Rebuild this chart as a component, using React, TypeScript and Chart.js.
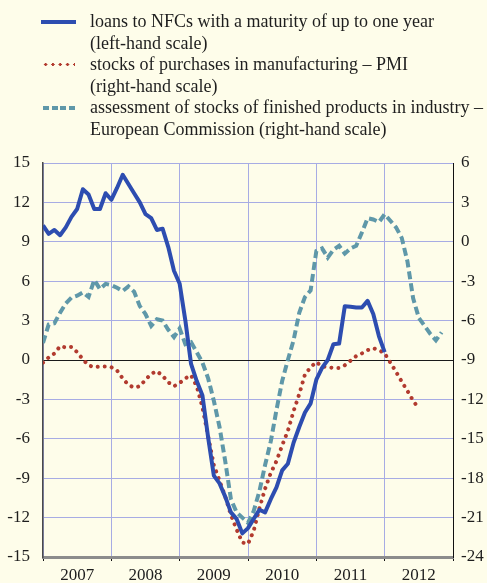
import React, { useEffect, useRef } from "react";
import { Chart, registerables } from "chart.js";

Chart.register(...registerables);

// Monthly observations, Jan 2007 = index 0
const years = ["2007", "2008", "2009", "2010", "2011", "2012"];

// loans to NFCs with a maturity of up to one year (left-hand scale)
const loans = [
  10.25, 9.6, 9.9, 9.5, 10.1, 10.9, 11.5, 13.0, 12.6, 11.5, 11.5, 12.7,
  12.2, 13.1, 14.1, 13.4, 12.7, 12.0, 11.1, 10.8, 9.9, 10.0, 8.6, 6.8,
  5.8, 3.0, -0.3, -1.6, -2.7, -5.9, -8.8, -9.4, -10.4, -11.6, -12.1, -13.2,
  -12.8, -12.1, -11.4, -11.6, -10.6, -9.7, -8.4, -7.9, -6.3, -5.1, -4.0, -3.3,
  -1.5, -0.6, 0.0, 1.2, 1.25, 4.1, 4.05, 4.0, 4.0, 4.5, 3.5, 1.8,
  0.6,
];

// stocks of purchases in manufacturing – PMI (right-hand scale)
const pmi = [
  -9.2, -8.8, -8.5, -7.95, -8.05, -8.0, -8.4, -8.95, -9.4, -9.55, -9.5, -9.5,
  -9.55, -9.8, -10.4, -10.9, -11.1, -11.0, -10.5, -10.05, -9.85, -10.2, -10.7, -11.0,
  -10.75, -10.4, -10.15, -11.0, -12.6, -14.8, -17.0, -18.2, -19.4, -20.8, -21.9, -22.9,
  -23.0, -22.0, -20.3, -18.8, -17.6, -16.7, -15.5, -14.4, -12.9, -11.6, -10.1, -9.55,
  -9.15, -9.5, -9.55, -9.6, -9.6, -9.4, -9.05, -8.7, -8.5, -8.25, -8.1, -8.25,
  -8.5, -9.2, -9.9, -10.65, -11.35, -12.1, -12.7,
];

// assessment of stocks of finished products in industry – EC (right-hand scale)
const ec = [
  -7.7, -6.3, -6.2, -5.4, -4.7, -4.25, -4.1, -3.85, -4.2, -2.9, -3.6, -3.2,
  -3.3, -3.5, -3.75, -3.4, -3.8, -4.9, -5.5, -6.4, -5.9, -6.0, -6.7, -7.25,
  -6.6, -7.8, -7.65, -8.4, -9.2, -10.4, -12.1, -14.1, -16.7, -19.6, -20.6, -21.0,
  -21.4, -20.5, -19.0, -17.0, -15.2, -12.8, -10.6, -9.0, -7.5, -5.4, -4.2, -3.7,
  -0.7, -0.5, -1.2, -0.6, -0.3, -0.9, -0.5, -0.3, 0.7, 1.8, 1.7, 1.5,
  2.1, 1.6, 1.1, 0.3, -1.5, -4.3, -5.8, -6.4, -7.0, -7.5, -6.9,
];

const seriesNames = [
  ["loans to NFCs with a maturity of up to one year", "(left-hand scale)"],
  ["stocks of purchases in manufacturing – PMI", "(right-hand scale)"],
  ["assessment of stocks of finished products in industry –", "European Commission (right-hand scale)"],
];

const BG = "#FEFDEA";
const GRID = "#A7ACE4";
const BLUE = "#2D4DB0";
const RED = "#B23B2F";
const TEAL = "#5F98A9";
const FONT = "'Liberation Serif', 'DejaVu Serif', serif";

const toPoints = (arr: number[]) => arr.map((v, i) => ({ x: i, y: v }));

export default function App() {
  const ref = useRef<HTMLCanvasElement | null>(null);

  useEffect(() => {
    if (!ref.current) return;
    const chart = new Chart(ref.current, {
      type: "line",
      data: {
        datasets: [
          {
            label: seriesNames[0].join(" "),
            data: toPoints(loans),
            yAxisID: "y",
            borderColor: BLUE,
            borderWidth: 4,
            pointRadius: 0,
            tension: 0,
            order: 0,
            borderJoinStyle: "round",
          },
          {
            label: seriesNames[1].join(" "),
            data: toPoints(pmi),
            yAxisID: "y2",
            borderColor: RED,
            borderWidth: 4,
            borderDash: [0.01, 7],
            borderCapStyle: "round",
            pointRadius: 0,
            tension: 0,
            order: 2,
          },
          {
            label: seriesNames[2].join(" "),
            data: toPoints(ec),
            yAxisID: "y2",
            borderColor: TEAL,
            borderWidth: 4,
            borderDash: [8, 4],
            borderCapStyle: "butt",
            pointRadius: 0,
            tension: 0,
            order: 1,
          },
        ],
      },
      options: {
        animation: false,
        responsive: false,
        maintainAspectRatio: false,
        layout: { padding: { top: 163, left: 0, right: 0, bottom: 0 } },
        plugins: { legend: { display: false }, tooltip: { enabled: false } },
        scales: {
          x: {
            type: "linear",
            min: 0,
            max: 72,
            afterBuildTicks: (s: any) => {
              s.ticks = Array.from({ length: 13 }, (_, k) => ({ value: k * 6 }));
            },
            afterFit: (s: any) => {
              s.height = 26;
            },
            grid: {
              color: (c: any) => (c.tick && c.tick.value % 12 === 0 ? GRID : "rgba(0,0,0,0)"),
              tickColor: (c: any) => (c.tick && c.tick.value % 12 === 0 ? "#111" : "rgba(0,0,0,0)"),
              tickLength: 4,
              lineWidth: 1,
            },
            border: { display: true, color: "#8C8C8C", width: 3 },
            ticks: {
              autoSkip: false,
              maxRotation: 0,
              padding: 4,
              color: "#1E1E1E",
              font: { family: FONT, size: 17 },
              callback: (v: any) => {
                const n = Number(v);
                return n % 12 === 6 ? years[(n - 6) / 12] : "";
              },
            },
          },
          y: {
            position: "left",
            min: -15,
            max: 15,
            afterFit: (s: any) => {
              s.width = 43;
            },
            grid: {
              color: (c: any) => (c.tick && c.tick.value === 0 ? "#1A1A1A" : GRID),
              drawTicks: false,
              lineWidth: 1,
            },
            border: { display: true, color: "#4A4A4A", width: 1.5 },
            ticks: {
              stepSize: 3,
              padding: 13,
              color: "#1E1E1E",
              font: { family: FONT, size: 17 },
            },
          },
          y2: {
            position: "right",
            min: -24,
            max: 6,
            afterFit: (s: any) => {
              s.width = 34;
            },
            grid: { display: false, drawTicks: false },
            border: { display: true, color: "#111", width: 1 },
            ticks: {
              stepSize: 3,
              padding: 8,
              color: "#1E1E1E",
              font: { family: FONT, size: 17 },
            },
          },
        },
      },
    });
    return () => chart.destroy();
  }, []);

  const textStyle: React.CSSProperties = {
    position: "absolute",
    left: 90,
    fontFamily: FONT,
    fontSize: 18,
    lineHeight: "21.6px",
    color: "#1E1E1E",
    whiteSpace: "nowrap",
  };

  return (
    <div
      style={{
        position: "fixed",
        left: 0,
        top: 0,
        width: 487,
        height: 583,
        background: BG,
        overflow: "hidden",
      }}
    >
      <canvas ref={ref} width={487} height={583} style={{ position: "absolute", left: 0, top: 0, width: 487, height: 583 }} />
      {/* legend markers */}
      <div style={{ position: "absolute", left: 41, top: 19.5, width: 35, height: 4.5, background: BLUE }} />
      <div
        style={{
          position: "absolute",
          left: 41.6,
          top: 63.4,
          width: 33,
          height: 3.2,
          backgroundImage: `radial-gradient(circle, ${RED} 1.4px, transparent 1.7px)`,
          backgroundSize: "7.3px 3.2px",
          backgroundRepeat: "repeat-x",
        }}
      />
      <div
        style={{
          position: "absolute",
          left: 43,
          top: 106.3,
          width: 32,
          height: 3.6,
          backgroundImage: `repeating-linear-gradient(to right, ${TEAL} 0px, ${TEAL} 6px, transparent 6px, transparent 8.6px)`,
        }}
      />
      {seriesNames.map((lines, i) => (
        <div key={i} style={{ ...textStyle, top: 11 + i * 43.2 }}>
          {lines[0]}
          <br />
          {lines[1]}
        </div>
      ))}
    </div>
  );
}
